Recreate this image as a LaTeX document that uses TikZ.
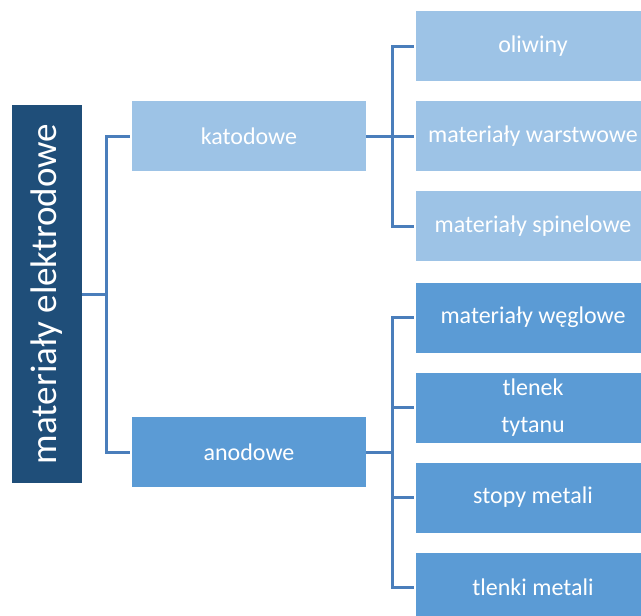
\documentclass[tikz,border=0pt]{standalone}
\usepackage{fontspec}
\setmainfont{Carlito}
\usetikzlibrary{positioning}
\definecolor{rootblue}{HTML}{1F4E79}
\definecolor{katblue}{HTML}{9DC3E6}
\definecolor{anoblue}{HTML}{5B9BD5}
\definecolor{linkblue}{HTML}{4A7EBB}
\begin{document}
\begin{tikzpicture}[x=1pt, y=-1pt,
	box/.style={text=white, inner sep=0pt, minimum width=234pt, minimum height=70pt, align=center, font=\fontsize{24}{37}\selectfont},
	katbox/.style={box, fill=katblue},
	anobox/.style={box, fill=anoblue},
	link/.style={draw=linkblue, line width=3pt, shorten >=2pt}]
	\useasboundingbox (0,0) rectangle (641,616);

	\node [fill=rootblue, text=white, rotate=90, minimum width=378pt, minimum height=70pt, inner sep=0pt, font=\fontsize{37}{40}\selectfont] (root) at (47,294) {materiały elektrodowe};

	\node [katbox] (kat) at (249,136) {katodowe};
	\node [anobox] (ano) at (249,452) {anodowe};

	\node [katbox] (oliw) at (533,46) {oliwiny};
	\node [katbox] (warst) at (533,136) {materiały warstwowe};
	\node [katbox] (spin) at (533,226) {materiały spinelowe};

	\node [anobox] (wegl) at (533,317.5) {materiały węglowe};
	\node [anobox] (tyt) at (533,407.5) {tlenek\\tytanu};
	\node [anobox] (stop) at (533,497.5) {stopy metali};
	\node [anobox] (tlen) at (533,587.5) {tlenki metali};

	\coordinate (rj) at (106,294);
	\coordinate (kj) at (392,136);
	\coordinate (aj) at (392,452);

	\draw [link, shorten >=0pt] (root) -- (rj);
	\draw [link] (rj) |- (kat.west);
	\draw [link] (rj) |- (ano.west);

	\draw [link, shorten >=0pt] (kat) -- (kj);
	\foreach \leaf in {oliw,warst,spin}
		\draw [link] (kj) |- (\leaf.west);

	\draw [link, shorten >=0pt] (ano) -- (aj);
	\foreach \leaf in {wegl,tyt,stop,tlen}
		\draw [link] (aj) |- (\leaf.west);
\end{tikzpicture}
\end{document}
